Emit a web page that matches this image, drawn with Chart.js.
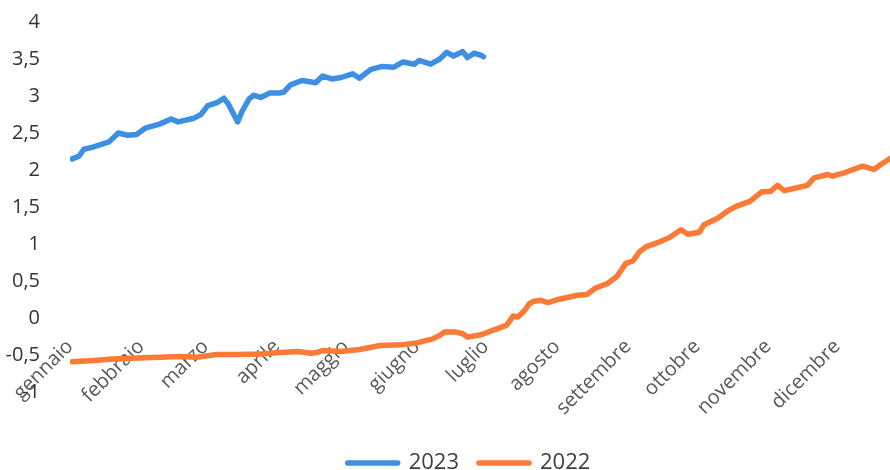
<!DOCTYPE html>
<html>
<head>
<meta charset="utf-8">
<title>Euribor 3 mesi 2022 - 2023</title>
<script src="https://cdn.jsdelivr.net/npm/chart.js@4.4.0/dist/chart.umd.min.js"></script>
<style>
  html, body { margin: 0; padding: 0; background: #fff; }
  #wrap { width: 890px; height: 470px; position: relative; overflow: hidden; }
</style>
</head>
<body>
<div id="wrap"><canvas id="canvas1"></canvas></div>
<script>
// mesi sull'asse x (giorno dell'anno in cui inizia ogni mese)
const mesi = ['gennaio', 'febbraio', 'marzo', 'aprile', 'maggio', 'giugno',
  'luglio', 'agosto', 'settembre', 'ottobre', 'novembre', 'dicembre'];
const inizioMese = [0, 31, 59, 90, 120, 151, 181, 212, 243, 273, 304, 334];

// tick asse y
const yMin = -1;
const yMax = 4;
const yStep = 0.5;

// 2023: giorno dell'anno / tasso
const giorni2023 = [1, 4, 6, 10, 14, 17, 21, 25, 29, 33, 39, 44, 47, 54, 57, 60, 64, 67, 69,
  73, 75, 78, 80, 83, 87, 91, 93, 96, 101, 107, 110, 114, 118, 123, 126, 131, 136, 141,
  145, 150, 152, 157, 161, 164, 167, 171, 173, 176, 179, 180];
const valori2023 = [2.15, 2.19, 2.28, 2.31, 2.35, 2.38, 2.50, 2.47, 2.48, 2.57, 2.62, 2.69, 2.65,
  2.70, 2.75, 2.87, 2.91, 2.97, 2.89, 2.65, 2.80, 2.96, 3.01, 2.98, 3.04, 3.04, 3.05, 3.15,
  3.21, 3.18, 3.27, 3.23, 3.25, 3.30, 3.24, 3.36, 3.40, 3.39, 3.46, 3.43, 3.48, 3.43, 3.50,
  3.59, 3.54, 3.60, 3.52, 3.58, 3.55, 3.53];

// 2022: giorno dell'anno / tasso
const giorni2022 = [1, 10, 19, 29, 39, 48, 55, 64, 73, 83, 90, 99, 105, 108, 110, 118, 126, 135,
  144, 151, 158, 161, 163, 168, 171, 173, 179, 184, 190, 193, 195, 198, 200, 202, 205, 208,
  213, 221, 225, 229, 234, 238, 242, 245, 248, 251, 257, 261, 266, 269, 274, 276, 282, 286,
  290, 296, 301, 305, 308, 311, 316, 321, 324, 330, 332, 337, 341, 345, 350, 353, 357];
const valori2022 = [-0.59, -0.575, -0.553, -0.539, -0.530, -0.520, -0.530, -0.493, -0.493, -0.485,
  -0.471, -0.452, -0.476, -0.462, -0.439, -0.452, -0.425, -0.371, -0.363, -0.336, -0.281,
  -0.235, -0.190, -0.190, -0.213, -0.258, -0.227, -0.167, -0.099, 0.027, 0.014, 0.105, 0.194,
  0.227, 0.240, 0.208, 0.254, 0.308, 0.317, 0.408, 0.466, 0.557, 0.738, 0.770, 0.897, 0.965,
  1.033, 1.087, 1.192, 1.132, 1.159, 1.260, 1.349, 1.440, 1.508, 1.576, 1.702, 1.712, 1.793,
  1.721, 1.757, 1.793, 1.893, 1.939, 1.916, 1.961, 2.007, 2.052, 2.007, 2.075, 2.156];

function punti(giorni, valori) {
  return giorni.map((g, i) => ({ x: g, y: valori[i] }));
}

const ctx = document.getElementById('canvas1').getContext('2d');
const chart = new Chart(ctx, {
  type: 'line',
  data: {
    datasets: [{
      label: '2023',
      data: punti(giorni2023, valori2023),
      borderColor: '#3d8fe4',
      backgroundColor: '#3d8fe4',
      pointBorderColor: '#3d8fe4',
      pointBorderWidth: 5,
    }, {
      label: '2022',
      data: punti(giorni2022, valori2022),
      borderColor: '#fb7a35',
      backgroundColor: '#fb7a35',
      pointBorderColor: '#fb7a35',
      pointBorderWidth: 5,
    }]
  },
  options: {
    responsive: true,
    maintainAspectRatio: false,
    animation: false,
    // padding destro negativo: la legenda resta centrata sulla larghezza originale
    layout: {
      padding: { top: 22, left: 0, right: -48, bottom: -14 }
    },
    elements: {
      point: { radius: 0 },
      line: { borderWidth: 5.5, tension: 0, borderCapStyle: 'round', borderJoinStyle: 'round' }
    },
    scales: {
      x: {
        type: 'linear',
        min: 0,
        max: 357,
        position: { y: -0.12 },
        grid: { display: false },
        border: { display: false },
        afterBuildTicks: (scale) => {
          scale.ticks = inizioMese.map(v => ({ value: v }));
        },
        ticks: {
          autoSkip: false,
          minRotation: 45,
          maxRotation: 45,
          padding: 0,
          color: '#595959',
          font: { family: 'Open Sans', size: 20 },
          callback: (v) => mesi[inizioMese.indexOf(v)]
        }
      },
      y: {
        min: yMin,
        max: yMax,
        grid: { display: false },
        border: { display: false },
        afterFit: (scale) => {
          scale.width = 70;
          scale.paddingTop = 0;
          scale.paddingBottom = 0;
        },
        ticks: {
          stepSize: yStep,
          padding: 22,
          color: '#333333',
          font: { family: 'Open Sans', size: 20 },
          callback: (v) => String(v).replace('.', ',')
        }
      }
    },
    plugins: {
      tooltip: { enabled: false },
      legend: {
        position: 'bottom',
        // titolo vuoto usato solo come spazio sopra le voci
        title: { display: true, text: '', font: { size: 10 }, padding: { top: 28, bottom: 0 } },
        labels: {
          usePointStyle: true,
          pointStyle: 'line',
          pointStyleWidth: 50,
          color: '#404040',
          font: { family: 'Open Sans', size: 22 },
          padding: 20,
          generateLabels: (c) => Chart.defaults.plugins.legend.labels.generateLabels(c)
            .map(item => Object.assign(item, { lineCap: 'round', lineWidth: 5.5 }))
        }
      }
    }
  }
});
</script>
</body>
</html>
